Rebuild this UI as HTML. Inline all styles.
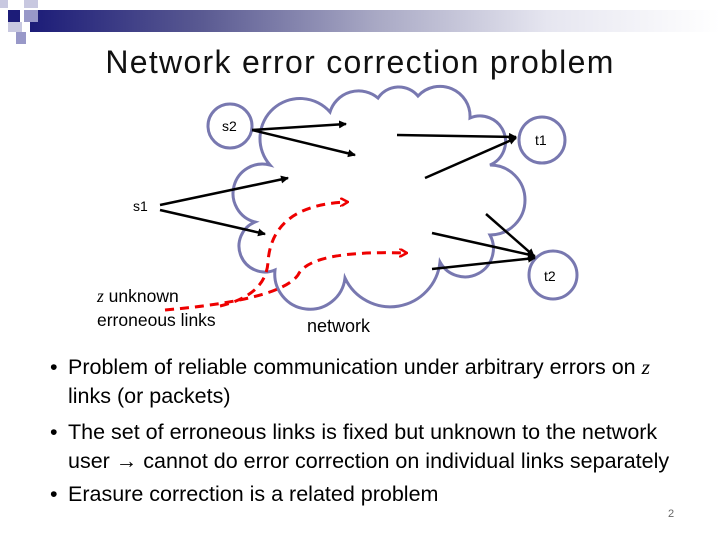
<!DOCTYPE html>
<html><head><meta charset="utf-8"><style>
body{margin:0;width:720px;height:540px;background:#fff;position:relative;overflow:hidden;font-family:"Liberation Sans",sans-serif;}
.t{position:absolute;white-space:nowrap;color:#000;}
</style></head><body>
<div style="position:absolute;left:30px;top:10px;width:690px;height:22px;background:linear-gradient(to right,#1c1c78 0%,#5a5a92 25%,#a8a8c4 50%,#e6e6f0 75%,#fff 100%)"></div>
<div style="position:absolute;left:0;top:0;width:8px;height:8px;background:#c8c8e0"></div>
<div style="position:absolute;left:8px;top:10px;width:12px;height:12px;background:#1c1c78"></div>
<div style="position:absolute;left:24px;top:10px;width:14px;height:12px;background:#9898c8"></div>
<div style="position:absolute;left:24px;top:0;width:14px;height:8px;background:#c8c8e0"></div>
<div style="position:absolute;left:8px;top:22px;width:14px;height:10px;background:#c8c8e0"></div>
<div style="position:absolute;left:16px;top:32px;width:10px;height:12px;background:#9898c8"></div>
<div class="t" style="left:0;width:720px;text-align:center;top:44px;font-size:32px;letter-spacing:1.3px;color:#111">Network error correction problem</div>
<svg width="720" height="540" style="position:absolute;left:0;top:0">
<defs><marker id="a" markerWidth="8" markerHeight="8" refX="7" refY="4" orient="auto" markerUnits="userSpaceOnUse"><path d="M0,0 L8,4 L0,8 z" fill="#000"/></marker>
<marker id="r" markerWidth="9" markerHeight="9" refX="7" refY="4.5" orient="auto" markerUnits="userSpaceOnUse"><path d="M0,0 L8,4.5 L0,9" fill="none" stroke="#e00" stroke-width="2.5"/></marker></defs>
<g fill="none" stroke="#7878b0" stroke-width="3">
<path d="M270,165 A38,38 0 0 1 330,112 A30,30 0 0 1 378,98 A25,25 0 0 1 418,96 A30,30 0 0 1 470,118 A24,24 0 0 1 490,165 A30,30 0 0 1 490,235 A28,28 0 0 1 440,262 A50,50 0 0 1 345,278 A34,34 0 0 1 275,270 A25,25 0 0 1 255,222 A28,28 0 0 1 270,165 Z"/>
<circle cx="230" cy="126" r="22"/><circle cx="542" cy="140" r="23"/><circle cx="553" cy="275" r="24"/>
</g>
<g stroke="#000" stroke-width="2.5" marker-end="url(#a)">
<line x1="252" y1="130" x2="346" y2="124"/><line x1="252" y1="130" x2="355" y2="155"/>
<line x1="160" y1="205" x2="288" y2="178"/><line x1="160" y1="210" x2="265" y2="234"/>
<line x1="397" y1="135" x2="516" y2="137"/><line x1="425" y1="178" x2="516" y2="138"/>
<line x1="486" y1="214" x2="534" y2="256"/><line x1="432" y1="233" x2="535" y2="256"/><line x1="432" y1="269" x2="535" y2="258"/>
</g>
<g stroke="#e00" stroke-width="3" stroke-dasharray="9,6" fill="none" marker-end="url(#r)">
<path d="M220,306 Q266,295 268,262 Q272,205 347,202"/>
<path d="M165,310 Q280,300 298,275 Q310,250 406,253"/>
</g>
</svg>
<div class="t" style="left:222px;top:118px;font-size:14px">s2</div>
<div class="t" style="left:535px;top:132px;font-size:14px">t1</div>
<div class="t" style="left:133px;top:198px;font-size:14px">s1</div>
<div class="t" style="left:544px;top:268px;font-size:14px">t2</div>
<div class="t" style="left:97px;top:286px;font-size:17.5px"><i style="font-family:'Liberation Serif',serif">z</i> unknown</div>
<div class="t" style="left:97px;top:310px;font-size:17.5px">erroneous links</div>
<div class="t" style="left:307px;top:316px;font-size:18px">network</div>
<div style="position:absolute;left:50px;top:353px;font-size:21.5px;line-height:28.5px">
<div style="position:relative;padding-left:18px"><span style="position:absolute;left:0">•</span>Problem of reliable communication under arbitrary errors on <i style="font-family:'Liberation Serif',serif">z</i><br>links (or packets)</div>
<div style="position:relative;padding-left:18px;margin-top:8px"><span style="position:absolute;left:0">•</span>The set of erroneous links is fixed but unknown to the network<br>user → cannot do error correction on individual links separately</div>
<div style="position:relative;padding-left:18px;margin-top:5px"><span style="position:absolute;left:0">•</span>Erasure correction is a related problem</div>
</div>
<div class="t" style="left:668px;top:508px;font-size:11px;color:#666">2</div>
</body></html>
